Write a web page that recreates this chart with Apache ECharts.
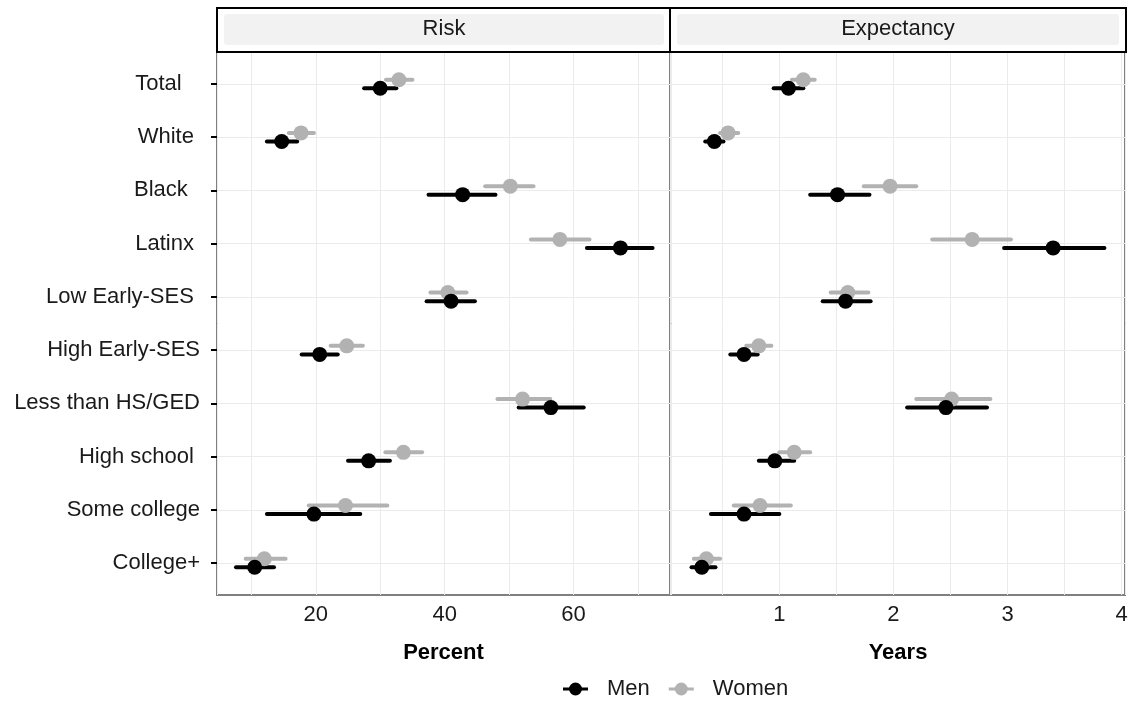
<!DOCTYPE html>
<html>
<head>
<meta charset="utf-8">
<script src="https://cdn.jsdelivr.net/npm/echarts@6/dist/echarts.min.js"></script>
<style>
  html, body { margin: 0; padding: 0; background: #fff; }
  #chart { width: 1133px; height: 702px; }
</style>
</head>
<body>
<div id="chart"></div>
<script>
// Categories (trailing spaces kept as in the source labels)
var categories = ['Total   ', 'White ', 'Black  ', 'Latinx ', 'Low Early-SES ', 'High Early-SES',
  'Less than HS/GED', 'High school ', 'Some college', 'College+'];

// Risk panel (percent)
var riskMen     = [30.0, 14.7, 42.8, 67.3, 41.0, 20.6, 56.5, 28.2, 19.7, 10.5];
var riskMenLo   = [27.5, 12.4, 37.5, 62.1, 37.2, 17.8, 51.5, 25.0, 12.4, 7.6];
var riskMenHi   = [32.5, 17.1, 47.9, 72.3, 44.7, 23.4, 61.6, 31.5, 26.9, 13.5];
var riskWomen   = [32.9, 17.7, 50.2, 57.9, 40.5, 24.8, 52.1, 33.6, 24.6, 12.0];
var riskWomenLo = [30.9, 15.8, 46.3, 53.4, 37.8, 22.3, 48.2, 30.8, 18.9, 9.1];
var riskWomenHi = [35.0, 19.7, 53.8, 62.5, 43.4, 27.3, 56.4, 36.5, 31.1, 15.3];

// Expectancy panel (years)
var expMen     = [1.08, 0.43, 1.51, 3.40, 1.58, 0.69, 2.46, 0.96, 0.69, 0.32];
var expMenLo   = [0.95, 0.35, 1.27, 2.97, 1.38, 0.57, 2.12, 0.82, 0.40, 0.23];
var expMenHi   = [1.21, 0.51, 1.79, 3.85, 1.80, 0.81, 2.82, 1.13, 1.00, 0.44];
var expWomen   = [1.21, 0.55, 1.97, 2.69, 1.60, 0.82, 2.51, 1.13, 0.83, 0.36];
var expWomenLo = [1.11, 0.48, 1.74, 2.34, 1.45, 0.71, 2.20, 1.00, 0.60, 0.25];
var expWomenHi = [1.31, 0.64, 2.20, 3.03, 1.78, 0.93, 2.85, 1.27, 1.10, 0.48];

// tick labels
var riskTicks = [20, 40, 60];
var expTicks = [1, 2, 3, 4];

var MEN_COLOR = '#000000';
var WOMEN_COLOR = '#b2b2b2';
var DODGE = 0.08;
var FONT = '"Liberation Sans", Arial, sans-serif';
var TEXT_COLOR = '#1a1a1a';

// panel geometry
var PANEL_TOP = 52, PANEL_H = 543;
var UNIT = PANEL_H / 10.2;
var ROWS_TOP = PANEL_TOP + 0.6 * UNIT, ROWS_H = 9 * UNIT;
var LEFT_X = 217, LEFT_W = 453, RIGHT_X = 671, RIGHT_W = 454;

function points(vals, offset) {
  return vals.map(function (v, i) { return [v, i + offset]; });
}
function bars(lo, hi, offset) {
  return lo.map(function (v, i) { return [v, hi[i], i + offset]; });
}
function labelFrom(ticks) {
  return function (v) {
    for (var i = 0; i < ticks.length; i++) {
      if (Math.abs(v - ticks[i]) < 1e-6) return String(ticks[i]);
    }
    return '';
  };
}

function renderBar(params, api) {
  var y = api.value(2);
  var a = api.coord([api.value(0), y]);
  var b = api.coord([api.value(1), y]);
  return {
    type: 'line',
    shape: { x1: a[0], y1: a[1], x2: b[0], y2: b[1] },
    style: { stroke: api.visual('color'), lineWidth: 4, lineCap: 'round' }
  };
}

function barSeries(name, color, axis, data) {
  return {
    name: name, type: 'custom', renderItem: renderBar,
    xAxisIndex: axis, yAxisIndex: axis,
    encode: { x: [0, 1], y: 2 },
    itemStyle: { color: color },
    clip: false, silent: true, z: 3,
    data: data
  };
}
function dotSeries(name, color, axis, data) {
  return {
    name: name, type: 'scatter',
    xAxisIndex: axis, yAxisIndex: axis,
    symbolSize: 15,
    itemStyle: { color: color, opacity: 1 },
    clip: false, silent: true, z: 4,
    data: data
  };
}

var gridLine = { show: true, lineStyle: { color: '#ebebeb', width: 1 } };
var legendIcon = 'path://M0,5 L25,5 L25,8 L0,8 Z M6,6.5 A6.5,6.5 0 1,1 19,6.5 A6.5,6.5 0 1,1 6,6.5 Z';

var option = {
  animation: false,
  backgroundColor: '#ffffff',
  textStyle: { fontFamily: FONT },
  grid: [
    // frames + data
    { left: LEFT_X, top: PANEL_TOP, width: LEFT_W, height: PANEL_H, show: true,
      borderColor: '#808080', borderWidth: 2, backgroundColor: 'transparent' },
    { left: RIGHT_X, top: PANEL_TOP, width: RIGHT_W, height: PANEL_H, show: true,
      borderColor: '#808080', borderWidth: 2, backgroundColor: 'transparent' },
    // rows (labels, ticks, horizontal grid lines)
    { left: LEFT_X, top: ROWS_TOP, width: LEFT_W, height: ROWS_H },
    { left: RIGHT_X, top: ROWS_TOP, width: RIGHT_W, height: ROWS_H }
  ],
  xAxis: [
    { gridIndex: 0, type: 'value', min: 4.65, max: 75, splitNumber: 7,
      name: 'Percent', nameLocation: 'middle', nameGap: 47,
      nameTextStyle: { fontSize: 22, fontWeight: 'bold', color: '#000', fontFamily: FONT },
      axisLine: { show: false }, axisTick: { show: false },
      axisLabel: { fontSize: 22, color: TEXT_COLOR, margin: 9, fontFamily: FONT,
        showMinLabel: false, showMaxLabel: false, formatter: labelFrom(riskTicks) },
      splitLine: gridLine },
    { gridIndex: 1, type: 'value', min: 0.05, max: 4.03, splitNumber: 8,
      name: 'Years', nameLocation: 'middle', nameGap: 47,
      nameTextStyle: { fontSize: 22, fontWeight: 'bold', color: '#000', fontFamily: FONT },
      axisLine: { show: false }, axisTick: { show: false },
      axisLabel: { fontSize: 22, color: TEXT_COLOR, margin: 9, fontFamily: FONT,
        showMinLabel: false, formatter: labelFrom(expTicks) },
      splitLine: gridLine },
    { gridIndex: 2, type: 'value', show: false },
    { gridIndex: 3, type: 'value', show: false }
  ],
  yAxis: [
    { gridIndex: 0, type: 'value', min: -0.6, max: 9.6, inverse: true, show: false },
    { gridIndex: 1, type: 'value', min: -0.6, max: 9.6, inverse: true, show: false },
    { gridIndex: 2, type: 'category', data: categories, boundaryGap: false, inverse: true,
      axisLine: { show: false },
      axisTick: { show: true, length: 6, lineStyle: { color: '#000', width: 2 } },
      axisLabel: { fontSize: 22, color: TEXT_COLOR, margin: 17, fontFamily: FONT, interval: 0 },
      splitLine: gridLine },
    { gridIndex: 3, type: 'category', data: categories, boundaryGap: false, inverse: true,
      axisLine: { show: false }, axisTick: { show: false }, axisLabel: { show: false },
      splitLine: gridLine }
  ],
  legend: {
    left: 558, top: 673,
    itemWidth: 25, itemHeight: 13, itemGap: 19,
    textStyle: { fontSize: 22, color: TEXT_COLOR, fontFamily: FONT, padding: [0, 0, 0, 14] },
    data: [
      { name: 'Men', icon: legendIcon, itemStyle: { color: MEN_COLOR } },
      { name: 'Women', icon: legendIcon, itemStyle: { color: WOMEN_COLOR } }
    ]
  },
  graphic: [
    { type: 'rect', shape: { x: 224, y: 14, width: 440, height: 31, r: 3 },
      style: { fill: '#f2f2f2' }, z: 1 },
    { type: 'rect', shape: { x: 677, y: 14, width: 442, height: 31, r: 3 },
      style: { fill: '#f2f2f2' }, z: 1 },
    { type: 'rect', shape: { x: 217, y: 8, width: 909, height: 44 },
      style: { fill: 'none', stroke: '#000', lineWidth: 2 }, z: 2 },
    { type: 'line', shape: { x1: 670, y1: 8, x2: 670, y2: 52 },
      style: { stroke: '#000', lineWidth: 2 }, z: 2 },
    { type: 'text', x: 444, y: 29, z: 3,
      style: { text: 'Risk', fill: TEXT_COLOR, font: '22px ' + FONT, align: 'center', verticalAlign: 'middle' } },
    { type: 'text', x: 898, y: 29, z: 3,
      style: { text: 'Expectancy', fill: TEXT_COLOR, font: '22px ' + FONT, align: 'center', verticalAlign: 'middle' } }
  ],
  series: [
    barSeries('Women', WOMEN_COLOR, 0, bars(riskWomenLo, riskWomenHi, -DODGE)),
    dotSeries('Women', WOMEN_COLOR, 0, points(riskWomen, -DODGE)),
    barSeries('Men', MEN_COLOR, 0, bars(riskMenLo, riskMenHi, DODGE)),
    dotSeries('Men', MEN_COLOR, 0, points(riskMen, DODGE)),
    barSeries('Women', WOMEN_COLOR, 1, bars(expWomenLo, expWomenHi, -DODGE)),
    dotSeries('Women', WOMEN_COLOR, 1, points(expWomen, -DODGE)),
    barSeries('Men', MEN_COLOR, 1, bars(expMenLo, expMenHi, DODGE)),
    dotSeries('Men', MEN_COLOR, 1, points(expMen, DODGE))
  ]
};

var chart = echarts.init(document.getElementById('chart'), null, { renderer: 'canvas' });
chart.setOption(option);
</script>
</body>
</html>
